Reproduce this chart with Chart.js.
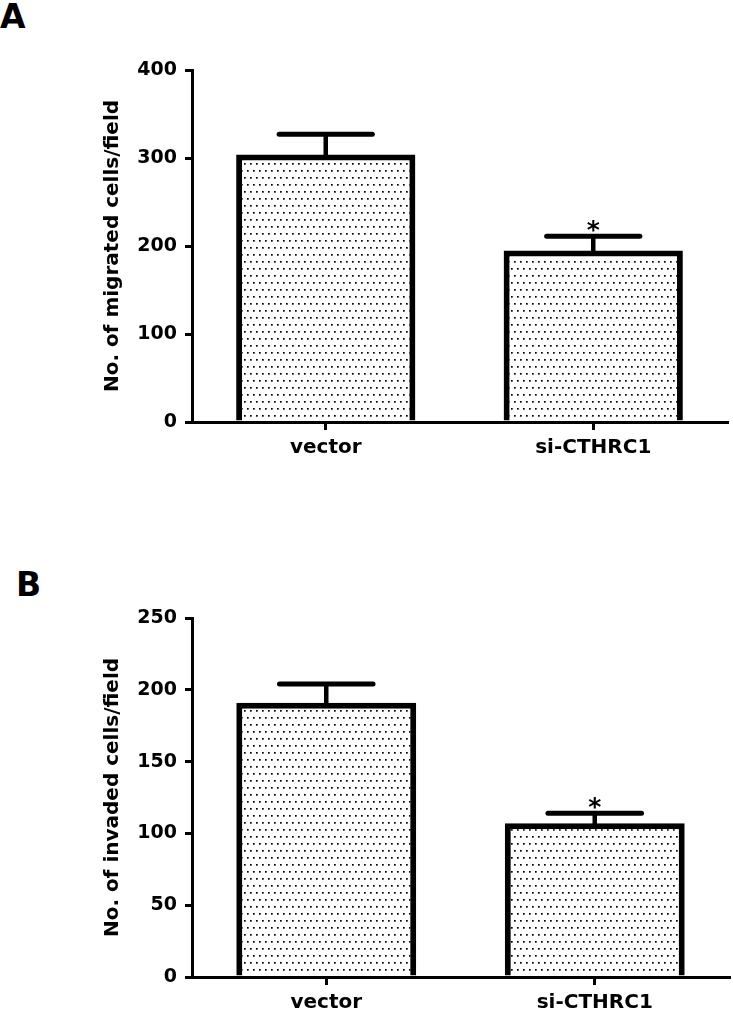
<!DOCTYPE html>
<html>
<head>
<meta charset="utf-8">
<script src="https://cdn.jsdelivr.net/npm/chart.js@4"></script>
<style>
  body { margin: 0; background: #fff; }
  #wrap { position: relative; width: 733px; height: 1011px; background: #fff; }
  .panel { position: absolute; left: 0; width: 733px; }
  .tag { position: absolute; font-family: "DejaVu Sans", sans-serif; font-weight: bold; font-size: 33px; color: #000; }
</style>
</head>
<body>
<div id="wrap">
  <div class="tag" style="left:0px; top:-3px;">A</div>
  <div class="panel" style="top:0; height:505px;"><canvas id="migrated" width="733" height="505"></canvas></div>
  <div class="tag" style="left:16px; top:565px;">B</div>
  <div class="panel" style="top:505px; height:506px;"><canvas id="invaded" width="733" height="506"></canvas></div>
</div>
<script>
// datos
var grupos = ['vector', 'si-CTHRC1'];
var migradas = [304, 195];
var migradasSem = [23, 16];
var invadidas = [191, 107];
var invadidasSem = [13, 7];
var significancia = ['', '*'];

// patron de puntos para las barras
function patronPuntos() {
    var c = document.createElement('canvas');
    c.width = 6; c.height = 14;
    var p = c.getContext('2d');
    p.fillStyle = '#fff';
    p.fillRect(0, 0, 6, 14);
    p.fillStyle = '#000';
    p.fillRect(1, 2, 1.7, 1.7);
    p.fillRect(4, 9, 1.7, 1.7);
    return p.createPattern(c, 'repeat');
}

var barrasError = {
    id: 'barrasError',
    afterDatasetsDraw: function (chart, args, opts) {
        var ctx = chart.ctx;
        var y = chart.scales.y;
        var meta = chart.getDatasetMeta(0);
        meta.data.forEach(function (bar, i) {
            var top = y.getPixelForValue(opts.valores[i] + opts.errores[i]);
            var mitad = bar.width * 0.26;
            ctx.save();
            ctx.strokeStyle = '#000';
            ctx.lineWidth = 4.5;
            ctx.beginPath();
            ctx.moveTo(bar.x, bar.y + 2);
            ctx.lineTo(bar.x, top);
            ctx.stroke();
            ctx.lineWidth = 5;
            ctx.lineCap = 'round';
            ctx.beginPath();
            ctx.moveTo(bar.x - mitad, top);
            ctx.lineTo(bar.x + mitad, top);
            ctx.stroke();
            if (opts.marcas[i]) {
                ctx.fillStyle = '#000';
                ctx.font = 'bold 25px "DejaVu Sans"';
                ctx.textAlign = 'center';
                ctx.textBaseline = 'alphabetic';
                ctx.fillText(opts.marcas[i], bar.x, top + 2);
            }
            ctx.restore();
        });
    }
};

function grafico(id, valores, errores, maximo, paso, titulo, padding) {
    var ctx = document.getElementById(id).getContext('2d');
    return new Chart(ctx, {
        type: 'bar',
        data: {
            labels: grupos,
            datasets: [{
                data: valores,
                backgroundColor: patronPuntos(),
                borderColor: '#000',
                borderWidth: 6,
                barPercentage: 0.67,
                categoryPercentage: 1
            }]
        },
        options: {
            responsive: false,
            animation: false,
            layout: { padding: padding },
            plugins: {
                legend: { display: false },
                tooltip: { enabled: false },
                barrasError: { valores: valores, errores: errores, marcas: significancia }
            },
            scales: {
                x: {
                    grid: { offset: false, drawOnChartArea: false, tickLength: 8, lineWidth: 3, color: '#000' },
                    border: { display: true, width: 3, color: '#000' },
                    ticks: { color: '#000', padding: 6, font: { family: 'DejaVu Sans', weight: 'bold', size: 20 } },
                    afterFit: function (s) { s.height = padding.xh; }
                },
                y: {
                    min: 0,
                    max: maximo,
                    ticks: { stepSize: paso, color: '#000', padding: 8, font: { family: 'DejaVu Sans', weight: 'bold', size: 19 } },
                    grid: { drawOnChartArea: false, tickLength: 7, lineWidth: 3, color: '#000' },
                    border: { display: true, width: 3, color: '#000' },
                    title: {
                        display: true,
                        text: titulo,
                        color: '#000',
                        padding: { top: 101, bottom: 0 },
                        font: { family: 'DejaVu Sans', weight: 'bold', size: 20 }
                    },
                    afterFit: function (s) { s.width = 192; }
                }
            }
        },
        plugins: [barrasError]
    });
}

grafico('migrated', migradas, migradasSem, 400, 100, 'No. of migrated cells/field',
    { top: 70, left: 0, right: 6, bottom: 23, xh: 60 });
grafico('invaded', invadidas, invadidasSem, 250, 50, 'No. of invaded cells/field',
    { top: 113, left: 0, right: 4, bottom: 0, xh: 34 });
</script>
</body>
</html>
